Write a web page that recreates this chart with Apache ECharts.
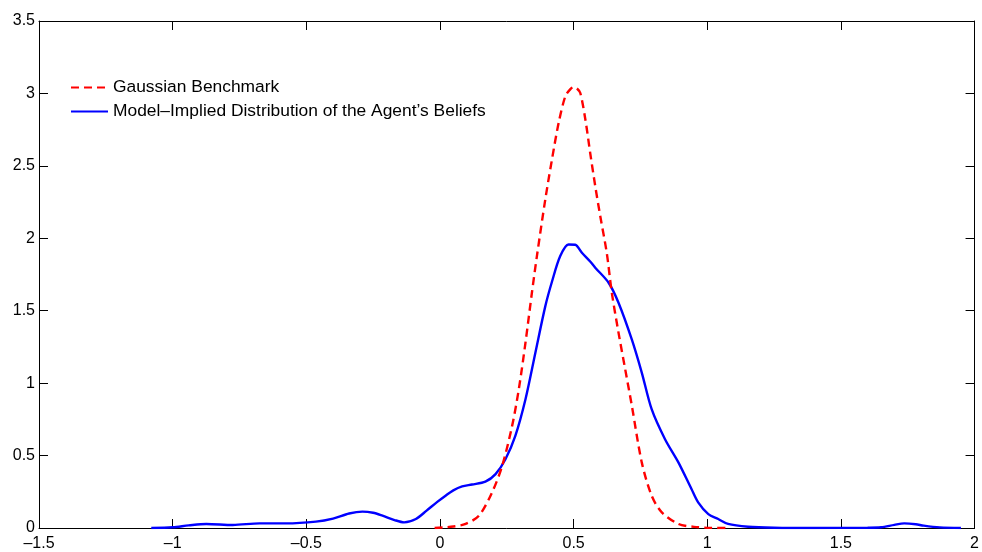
<!DOCTYPE html>
<html>
<head>
<meta charset="utf-8">
<script src="https://cdn.jsdelivr.net/npm/echarts@6/dist/echarts.min.js"></script>
<style>
html,body{margin:0;padding:0;background:#fff;}
#chart{width:982px;height:552px;}
</style>
</head>
<body>
<div id="chart"></div>
<script>
var seriesNames = ['Gaussian Benchmark', 'Model\u2013Implied Distribution of the Agent\u2019s Beliefs'];
var xTicks = [-1.5, -1, -0.5, 0, 0.5, 1, 1.5, 2];
var yTicks = [0, 0.5, 1, 1.5, 2, 2.5, 3, 3.5];

var gaussX = [-0.02, 0.05, 0.096, 0.146, 0.195, 0.233, 0.27, 0.295, 0.32, 0.344, 0.363, 0.394, 0.419, 0.444, 0.469, 0.488, 0.5, 0.512, 0.525, 0.544, 0.562, 0.581, 0.6, 0.624, 0.643, 0.668, 0.693, 0.718, 0.755, 0.792, 0.83, 0.892, 0.95, 1.016, 1.08];
var gaussY = [0, 0.01, 0.028, 0.085, 0.246, 0.43, 0.705, 0.958, 1.28, 1.624, 1.88, 2.267, 2.543, 2.796, 2.98, 3.03, 3.044, 3.035, 3.003, 2.82, 2.59, 2.36, 2.15, 1.9, 1.624, 1.349, 1.096, 0.843, 0.453, 0.223, 0.108, 0.028, 0.008, 0.001, 0];

var modelX = [-1.08, -1.0, -0.94, -0.874, -0.775, -0.675, -0.576, -0.464, -0.4, -0.34, -0.29, -0.25, -0.215, -0.17, -0.134, -0.09, -0.05, -0.01, 0.021, 0.05, 0.083, 0.12, 0.17, 0.208, 0.245, 0.282, 0.32, 0.357, 0.394, 0.419, 0.45, 0.481, 0.506, 0.531, 0.562, 0.581, 0.631, 0.668, 0.718, 0.755, 0.792, 0.842, 0.892, 0.941, 0.966, 1.004, 1.041, 1.078, 1.153, 1.25, 1.4, 1.6, 1.65, 1.7, 1.737, 1.78, 1.81, 1.87, 1.949];
var modelY = [0, 0.005, 0.018, 0.028, 0.021, 0.032, 0.032, 0.044, 0.065, 0.1, 0.113, 0.105, 0.085, 0.055, 0.039, 0.062, 0.12, 0.18, 0.223, 0.26, 0.287, 0.3, 0.32, 0.372, 0.475, 0.636, 0.889, 1.21, 1.53, 1.7, 1.877, 1.957, 1.955, 1.9, 1.84, 1.797, 1.693, 1.555, 1.3, 1.073, 0.82, 0.613, 0.453, 0.269, 0.177, 0.096, 0.062, 0.028, 0.009, 0.002, 0, 0.002, 0.005, 0.022, 0.032, 0.026, 0.016, 0.004, 0];

function pairs(xs, ys){ return xs.map(function(x,i){ return [x, ys[i]]; }); }
function fmt(v){ return String(v).replace('-', '\u2013'); }

var font = 'Liberation Sans, Arial, Helvetica, sans-serif';
var chart = echarts.init(document.getElementById('chart'), null, {renderer:'canvas'});

var xMin = xTicks[0], xMax = xTicks[xTicks.length-1];
var yMin = yTicks[0], yMax = yTicks[yTicks.length-1];

function xAxisDef(pos, show){
  return {
    type:'value', position:pos, min:xMin, max:xMax, interval:0.5,
    axisLine:{show:true, onZero:false, lineStyle:{color:'#000', width:1}},
    axisTick:{show:true, inside:true, length:9, lineStyle:{color:'#000', width:1}},
    axisLabel:{show:show, color:'#000', fontSize:16, fontFamily:font, margin:8, formatter:fmt},
    splitLine:{show:false}
  };
}
function yAxisDef(pos, show){
  return {
    type:'value', position:pos, min:yMin, max:yMax, interval:0.5,
    axisLine:{show:true, onZero:false, lineStyle:{color:'#000', width:1}},
    axisTick:{show:true, inside:true, length:9, lineStyle:{color:'#000', width:1}},
    axisLabel:{show:show, color:'#000', fontSize:16, fontFamily:font, margin:4, formatter:fmt},
    splitLine:{show:false}
  };
}

chart.setOption({
  animation:false,
  backgroundColor:'#fff',
  grid:{left:39, right:5, top:21, bottom:23, containLabel:false},
  legend:{
    orient:'vertical', left:65, top:74, itemWidth:37, itemHeight:14, itemGap:7,
    textStyle:{color:'#000', fontSize:17.4, fontFamily:font},
    itemStyle:{opacity:0},
    data:seriesNames
  },
  xAxis:[xAxisDef('bottom', true), xAxisDef('top', false)],
  yAxis:[yAxisDef('left', true), yAxisDef('right', false)],
  series:[
    {name:seriesNames[0], type:'line', xAxisIndex:0, yAxisIndex:0, symbol:'none', smooth:0.3,
     data:pairs(gaussX, gaussY), lineStyle:{color:'#ff0000', width:2.4, type:[8,5]}, itemStyle:{color:'#ff0000'}, z:3},
    {name:seriesNames[1], type:'line', xAxisIndex:0, yAxisIndex:0, symbol:'none', smooth:0.3,
     data:pairs(modelX, modelY), lineStyle:{color:'#0000ff', width:2.4}, itemStyle:{color:'#0000ff'}, z:2}
  ]
});
</script>
</body>
</html>
